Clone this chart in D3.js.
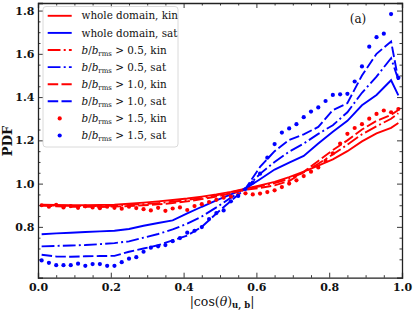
<!DOCTYPE html>
<html>
<head>
<meta charset="utf-8">
<script src="https://cdn.jsdelivr.net/npm/d3@7"></script>
<style>
  body { margin: 0; background: #fff; }
  svg { display: block; }
</style>
</head>
<body>
<script>
// x positions (bin centres) of the curves
const xLine = [0.01,0.05,0.09,0.13,0.17,0.21,0.25,0.29,0.33,0.37,0.41,0.45,0.49,
               0.53,0.57,0.61,0.65,0.69,0.73,0.77,0.81,0.85,0.89,0.93,0.97,0.99];

const kinWhole = [0.902,0.901,0.900,0.900,0.901,0.903,0.907,0.912,0.918,0.924,0.931,0.940,0.950,
                  0.962,0.977,0.992,1.008,1.030,1.055,1.083,1.112,1.150,1.195,1.232,1.258,1.280];
const satWhole = [0.766,0.770,0.773,0.776,0.779,0.782,0.790,0.805,0.818,0.830,0.862,0.893,0.922,
                  0.950,0.977,1.020,1.065,1.097,1.128,1.185,1.240,1.290,1.362,1.410,1.478,1.408];
const kin05 = [0.900,0.898,0.897,0.896,0.896,0.898,0.901,0.905,0.910,0.916,0.924,0.934,0.946,
               0.960,0.975,0.988,1.002,1.022,1.052,1.092,1.135,1.180,1.228,1.265,1.300,1.325];
const sat05 = [0.710,0.712,0.714,0.716,0.720,0.725,0.733,0.750,0.767,0.788,0.815,0.848,0.890,
               0.935,0.977,1.045,1.100,1.148,1.185,1.230,1.270,1.330,1.420,1.495,1.580,1.480];
const kin10 = [0.898,0.895,0.893,0.893,0.892,0.894,0.896,0.900,0.904,0.910,0.918,0.928,0.940,
               0.955,0.972,0.980,0.992,1.012,1.055,1.105,1.155,1.200,1.250,1.290,1.318,1.340];
const sat10 = [0.671,0.663,0.662,0.664,0.665,0.666,0.685,0.700,0.715,0.738,0.760,0.800,0.862,
               0.920,0.977,1.077,1.150,1.202,1.228,1.262,1.340,1.372,1.500,1.600,1.657,1.480];

// x positions of the dotted series (every bin)
const xDots = [0.01,0.03,0.05,0.07,0.09,0.11,0.13,0.15,0.17,0.19,0.21,0.23,0.25,0.27,0.29,0.31,0.33,
               0.35,0.37,0.39,0.41,0.43,0.45,0.47,0.49,0.51,0.53,0.55,0.57,0.59,0.61,0.63,0.65,0.67,
               0.69,0.71,0.73,0.75,0.77,0.79,0.81,0.83,0.85,0.87,0.89,0.91,0.93,0.95,0.97,0.99];
const kin15 = [0.900,0.893,0.902,0.890,0.896,0.888,0.895,0.890,0.886,0.893,0.888,0.884,0.893,0.887,
               0.882,0.876,0.888,0.874,0.885,0.890,0.878,0.896,0.905,0.915,0.925,0.935,0.940,0.948,
               0.955,0.950,0.954,0.961,0.969,0.984,1.000,1.015,1.035,1.055,1.075,1.105,1.140,1.185,
               1.230,1.257,1.275,1.300,1.322,1.338,1.330,1.345];
const sat15 = [0.645,0.634,0.623,0.623,0.623,0.630,0.620,0.628,0.628,0.620,0.620,0.637,0.653,0.660,
               0.685,0.704,0.710,0.716,0.734,0.748,0.773,0.782,0.799,0.836,0.864,0.876,0.918,0.943,
               0.975,1.005,1.046,1.120,1.183,1.236,1.255,1.275,1.307,1.333,1.352,1.382,1.410,1.413,
               1.415,1.472,1.542,1.633,1.677,1.693,1.784,1.489];

const xTicks = [0.0,0.2,0.4,0.6,0.8,1.0];
const yTicks = [0.8,1.0,1.2,1.4,1.6,1.8];

const RED = "#ff0000", BLUE = "#0000ff";
const SOLID = null, DASHDOT = "12.8,3.2,2,3.2", DASHED = "10.5,3.3";

const series = [
  {label: "whole domain, kin", ys: kinWhole, color: RED,  dash: SOLID},
  {label: "whole domain, sat", ys: satWhole, color: BLUE, dash: SOLID},
  {label: "0.5, kin", ys: kin05, color: RED,  dash: DASHDOT},
  {label: "0.5, sat", ys: sat05, color: BLUE, dash: DASHDOT},
  {label: "1.0, kin", ys: kin10, color: RED,  dash: DASHED},
  {label: "1.0, sat", ys: sat10, color: BLUE, dash: DASHED},
  {label: "1.5, kin", ys: kin15, color: RED,  dots: true},
  {label: "1.5, sat", ys: sat15, color: BLUE, dots: true}
];

const W = 415, H = 312;
const x = d3.scaleLinear().domain([0, 1]).range([38, 402]);
const y = d3.scaleLinear().domain([0.565, 1.835]).range([277.7, 3]);

const svg = d3.select("body").append("svg").attr("width", W).attr("height", H);

const plot = svg.append("g");
const line = d3.line().x(d => x(d[0])).y(d => y(d[1]));

series.forEach(s => {
  if (s.dots) {
    plot.append("g").selectAll("circle")
      .data(xDots.map((v, i) => [v, s.ys[i]]))
      .enter().append("circle")
      .attr("cx", d => x(d[0]))
      .attr("cy", d => y(d[1]))
      .attr("r", 2.1)
      .attr("fill", s.color);
  } else {
    plot.append("path")
      .datum(xLine.map((v, i) => [v, s.ys[i]]))
      .attr("d", line)
      .attr("fill", "none")
      .attr("stroke", s.color)
      .attr("stroke-width", 1.9)
      .attr("stroke-dasharray", s.dash);
  }
});

// axes (ticks pointing inward on all four sides)
const minorX = d3.range(0, 1.0001, 0.05).filter(v => Math.abs(v * 5 - Math.round(v * 5)) > 1e-6);
const minorY = d3.range(0.6, 1.8001, 0.05).filter(v => Math.abs(v * 5 - Math.round(v * 5)) > 1e-6);

function styleAxis(g) {
  g.selectAll("line").attr("stroke", "#222").attr("stroke-width", 0.9);
  g.selectAll("path.domain").attr("stroke", "#222").attr("stroke-width", 1.3);
  g.selectAll("text").attr("font-family", "DejaVu Serif").attr("font-weight", "bold")
    .attr("font-size", 11).attr("fill", "#111");
}

svg.append("g").attr("transform", "translate(0,277.7)")
  .call(d3.axisBottom(x).tickValues(xTicks).tickSize(-5).tickPadding(5.5).tickFormat(d3.format(".1f")))
  .call(styleAxis);
svg.append("g").attr("transform", "translate(0,277.7)")
  .call(d3.axisBottom(x).tickValues(minorX).tickSize(-2.5).tickFormat(""))
  .call(g => g.select(".domain").remove()).call(styleAxis);
svg.append("g").attr("transform", "translate(0,3)")
  .call(d3.axisTop(x).tickValues(xTicks).tickSize(-5).tickFormat(""))
  .call(styleAxis);
svg.append("g").attr("transform", "translate(0,3)")
  .call(d3.axisTop(x).tickValues(minorX).tickSize(-2.5).tickFormat(""))
  .call(g => g.select(".domain").remove()).call(styleAxis);

svg.append("g").attr("transform", "translate(38,0)")
  .call(d3.axisLeft(y).tickValues(yTicks).tickSize(-5).tickPadding(3.5).tickFormat(d3.format(".1f")))
  .call(styleAxis);
svg.append("g").attr("transform", "translate(38,0)")
  .call(d3.axisLeft(y).tickValues(minorY).tickSize(-2.5).tickFormat(""))
  .call(g => g.select(".domain").remove()).call(styleAxis);
svg.append("g").attr("transform", "translate(402,0)")
  .call(d3.axisRight(y).tickValues(yTicks).tickSize(-5).tickFormat(""))
  .call(styleAxis);
svg.append("g").attr("transform", "translate(402,0)")
  .call(d3.axisRight(y).tickValues(minorY).tickSize(-2.5).tickFormat(""))
  .call(g => g.select(".domain").remove()).call(styleAxis);

// axis titles
svg.append("text")
  .attr("transform", "translate(11.5,141) rotate(-90)")
  .attr("text-anchor", "middle")
  .attr("font-family", "DejaVu Serif").attr("font-weight", "bold").attr("font-size", 13)
  .attr("fill", "#111")
  .text("PDF");

const xt = svg.append("text")
  .attr("x", 222).attr("y", 305.5)
  .attr("text-anchor", "middle")
  .attr("font-family", "DejaVu Serif").attr("font-size", 12.5).attr("fill", "#111");
xt.append("tspan").text("|cos(");
xt.append("tspan").attr("font-style", "italic").text("θ");
xt.append("tspan").text(")");
xt.append("tspan").attr("font-size", 8.5).attr("font-weight", "bold").attr("dy", 2.5).text("u, b");
xt.append("tspan").attr("dy", -2.5).text("|");

svg.append("text")
  .attr("x", 358).attr("y", 22.5)
  .attr("text-anchor", "middle")
  .attr("font-family", "DejaVu Serif").attr("font-size", 12).attr("fill", "#111")
  .text("(a)");

// legend
const legend = svg.append("g");
legend.append("rect")
  .attr("x", 43).attr("y", 6.5).attr("width", 135).attr("height", 140.5)
  .attr("rx", 3).attr("fill", "#fff").attr("fill-opacity", 0.85)
  .attr("stroke", "#d0d0d0").attr("stroke-width", 0.8);

series.forEach((s, i) => {
  const cy = 15.8 + i * 17.1;
  if (s.dots) {
    legend.append("circle").attr("cx", 59.7).attr("cy", cy).attr("r", 2.1).attr("fill", s.color);
  } else {
    legend.append("line")
      .attr("x1", 47.7).attr("x2", 71.7).attr("y1", cy).attr("y2", cy)
      .attr("stroke", s.color).attr("stroke-width", 1.9)
      .attr("stroke-dasharray", s.dash);
  }
  const t = legend.append("text")
    .attr("x", 81.5).attr("y", cy + 3.6)
    .attr("font-family", "DejaVu Serif").attr("font-size", 10.4).attr("fill", "#111");
  if (i < 2) {
    t.text(s.label);
  } else {
    t.append("tspan").attr("font-style", "italic").text("b");
    t.append("tspan").text("/");
    t.append("tspan").attr("font-style", "italic").text("b");
    t.append("tspan").attr("font-size", 7).attr("dy", 2).text("rms");
    t.append("tspan").attr("dy", -2).text(" > " + s.label);
  }
});
</script>
</body>
</html>
